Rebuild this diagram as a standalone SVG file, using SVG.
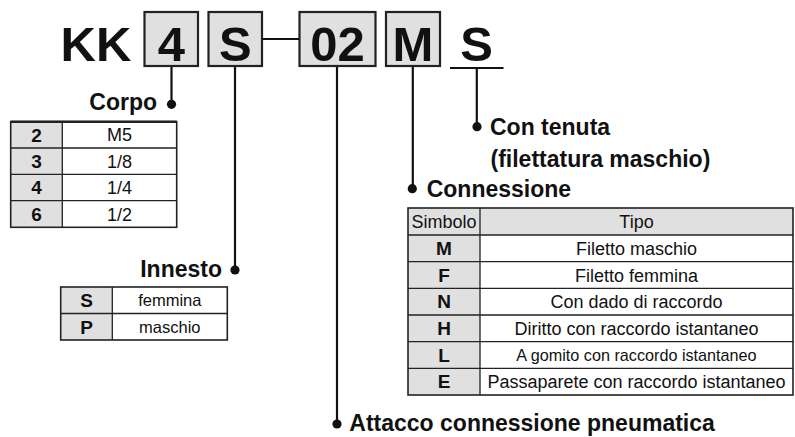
<svg xmlns="http://www.w3.org/2000/svg" width="795" height="437" viewBox="0 0 795 437">
<style>
text{font-family:"Liberation Sans",Arial,Helvetica,sans-serif;fill:#111}
.big{font-size:49px;font-weight:bold;text-anchor:middle}
.lab{font-size:23px;font-weight:bold}
.sym{font-size:19px;font-weight:bold;text-anchor:middle}
.cell{font-size:18px;text-anchor:middle}
.box{fill:#e0e0e0;stroke:#222;stroke-width:2.2}
.g{fill:#e0e0e0}
.w{fill:#fff}
.grid{stroke:#222;stroke-width:1.3;fill:none}
.outer{stroke:#222;stroke-width:1.6;fill:none}
.ln{stroke:#111;stroke-width:2.2;fill:none}
.dot{fill:#111}
</style>
<rect width="795" height="437" fill="#fff"/>

<g id="code">
<text x="96" y="61" class="big">KK</text>
<rect class="box" x="144.5" y="12" width="53.5" height="54"/>
<text x="171.3" y="61" class="big">4</text>
<rect class="box" x="208.5" y="12" width="53.5" height="54"/>
<text x="235.3" y="61" class="big">S</text>
<rect class="box" x="299.5" y="12" width="76" height="54"/>
<text x="337.5" y="61" class="big">02</text>
<rect class="box" x="386" y="12" width="54" height="54"/>
<text x="413" y="61" class="big">M</text>
<text x="476.5" y="61" class="big">S</text>
<line class="ln" x1="450" y1="68" x2="503.5" y2="68"/>
</g>

<g id="connectors">
<line class="ln" x1="262" y1="39" x2="299.5" y2="39" stroke-width="2.6"/>
<line class="ln" x1="171.5" y1="67" x2="171.5" y2="104"/>
<circle class="dot" cx="171.5" cy="104.3" r="4.6"/>
<line class="ln" x1="235" y1="67" x2="235" y2="270"/>
<circle class="dot" cx="235" cy="270" r="4.6"/>
<line class="ln" x1="337" y1="67" x2="337" y2="424"/>
<circle class="dot" cx="337" cy="424" r="4.6"/>
<line class="ln" x1="412.8" y1="67" x2="412.8" y2="188.7"/>
<circle class="dot" cx="412.3" cy="188.7" r="4.6"/>
<line class="ln" x1="476.8" y1="68" x2="476.8" y2="126.7"/>
<circle class="dot" cx="477" cy="126.7" r="4.6"/>
</g>

<g id="corpo">
<text x="157" y="110" class="lab" text-anchor="end">Corpo</text>
<rect class="g" x="10.7" y="121.7" width="51.6" height="105.6"/>
<rect class="w" x="62.3" y="121.7" width="114.4" height="105.6"/>
<path class="grid" d="M62.3 121.7V227.3M10.7 148H176.7M10.7 174.3H176.7M10.7 200.7H176.7"/>
<rect class="outer" x="10.7" y="121.7" width="166" height="105.6"/>
<line x1="10.7" y1="121.7" x2="176.7" y2="121.7" stroke="#222" stroke-width="2.4"/>
<text x="36.5" y="141.5" class="sym">2</text><text x="119.5" y="141.3" class="cell">M5</text>
<text x="36.5" y="167.9" class="sym">3</text><text x="119.5" y="167.7" class="cell">1/8</text>
<text x="36.5" y="194.2" class="sym">4</text><text x="119.5" y="194" class="cell">1/4</text>
<text x="36.5" y="220.7" class="sym">6</text><text x="119.5" y="220.5" class="cell">1/2</text>
</g>

<g id="innesto">
<text x="222" y="277" class="lab" text-anchor="end">Innesto</text>
<rect class="g" x="60.7" y="287" width="51.6" height="53"/>
<rect class="w" x="112.3" y="287" width="115" height="53"/>
<path class="grid" d="M112.3 287V340M60.7 313.5H227.3"/>
<rect class="outer" x="60.7" y="287" width="166.6" height="53"/>
<text x="86.5" y="307" class="sym">S</text><text x="169.8" y="306.3" class="cell" style="font-size:16.5px">femmina</text>
<text x="86.5" y="333.5" class="sym">P</text><text x="169.8" y="332.8" class="cell" style="font-size:16.5px">maschio</text>
</g>

<g id="tenuta">
<text x="490" y="135" class="lab">Con tenuta</text>
<text x="490.5" y="166.5" class="lab">(filettatura maschio)</text>
</g>

<g id="connessione">
<text x="426.7" y="197.3" class="lab">Connessione</text>
<rect class="g" x="408" y="208" width="385" height="27"/>
<rect class="g" x="408" y="235" width="72" height="160"/>
<rect class="w" x="480" y="235" width="313" height="160"/>
<path class="grid" d="M480 208V395M408 235H793M408 261.7H793M408 288.3H793M408 315H793M408 341.7H793M408 368.3H793"/>
<rect class="outer" x="408" y="208" width="385" height="187"/>
<text x="444" y="228" class="cell">Simbolo</text><text x="636.5" y="228" class="cell">Tipo</text>
<text x="444" y="255" class="sym">M</text><text x="636.5" y="254.8" class="cell">Filetto maschio</text>
<text x="444" y="281.7" class="sym">F</text><text x="636.5" y="281.5" class="cell">Filetto femmina</text>
<text x="444" y="308.4" class="sym">N</text><text x="636.5" y="308.2" class="cell">Con dado di raccordo</text>
<text x="444" y="335" class="sym">H</text><text x="636.5" y="334.8" class="cell">Diritto con raccordo istantaneo</text>
<text x="444" y="361.7" class="sym">L</text><text x="636.5" y="361" class="cell" style="font-size:16.2px">A gomito con raccordo istantaneo</text>
<text x="444" y="388.4" class="sym">E</text><text x="636.5" y="388.2" class="cell">Passaparete con raccordo istantaneo</text>
</g>

<g id="attacco">
<text x="349.3" y="430.5" class="lab">Attacco connessione pneumatica</text>
</g>
</svg>
